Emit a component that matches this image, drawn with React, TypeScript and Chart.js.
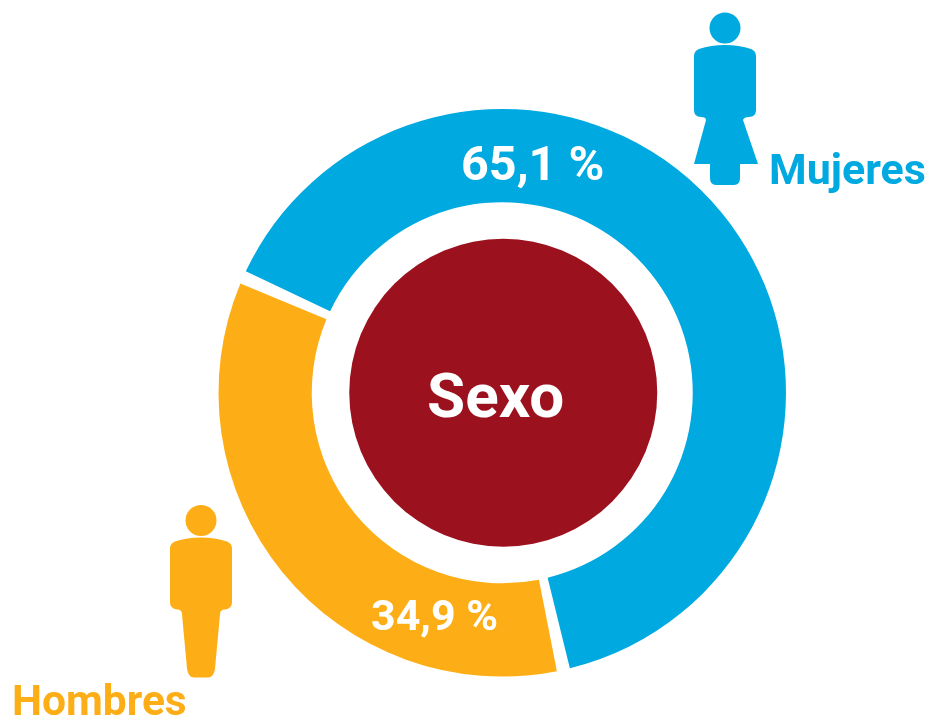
import React, { useEffect, useRef } from "react";
import { Chart, registerables } from "chart.js";

Chart.register(...registerables);

const categories = ["Mujeres", "Hombres"];
const shares = [65.1, 34.9];
const shareLabels = ["65,1 %", "34,9 %"];
const centerLabel = "Sexo";
const colors = ["#00A9E0", "#FDAE17"];
const centerColor = "#9B111E";

const womanPath =
  "M-31 28 Q-31 23 -26 21 Q-14 17 0 17 Q14 17 26 21 Q31 23 31 28 L31 82 Q31 89 24 89 Q19 89 18 92 L33 136 L15 136 L15 150 Q15 157 9 157 L-9 157 Q-15 157 -15 150 L-15 136 L-31 136 L-19 92 Q-19 89 -24 89 Q-31 89 -31 82 Z";
const manPath =
  "M-31 28 Q-31 23 -26 21 Q-14 17 0 17 Q14 17 26 21 Q31 23 31 28 L31 82 Q31 88 24 89 Q19 89 19 94 L14 148 Q13 157 7 157 L-7 157 Q-13 157 -14 148 L-19 94 Q-19 89 -24 89 Q-31 88 -31 82 Z";

const overlay = {
  id: "overlay",
  afterDraw(chart: any) {
    const { ctx } = chart;
    const cx = (chart.chartArea.left + chart.chartArea.right) / 2;
    const cy = (chart.chartArea.top + chart.chartArea.bottom) / 2;
    ctx.save();
    ctx.fillStyle = centerColor;
    ctx.beginPath();
    ctx.arc(cx + 1, cy, 154, 0, Math.PI * 2);
    ctx.fill();

    const text = (s: string, x: number, y: number, size: number, color: string) => {
      ctx.font = `700 ${size}px Roboto`;
      ctx.fillStyle = color;
      ctx.textAlign = "left";
      ctx.textBaseline = "alphabetic";
      ctx.fillText(s, x, y);
    };
    text(centerLabel, 427, 417, 62, "#FFFFFF");
    text(shareLabels[0], 461, 180, 48.5, "#FFFFFF");
    text(shareLabels[1], 371, 630, 43, "#FFFFFF");
    text(categories[0], 769, 184, 43, colors[0]);
    text(categories[1], 12, 715, 42.5, colors[1]);

    const person = (x: number, y: number, path: string, color: string) => {
      ctx.save();
      ctx.translate(x, y);
      ctx.fillStyle = color;
      ctx.beginPath();
      ctx.arc(0, 0, 15.5, 0, Math.PI * 2);
      ctx.fill();
      ctx.fill(new Path2D(path));
      ctx.restore();
    };
    person(725, 28, womanPath, colors[0]);
    person(201, 520.5, manPath, colors[1]);
    ctx.restore();
  },
};

export default function App() {
  const ref = useRef<HTMLCanvasElement>(null);
  useEffect(() => {
    const chart = new Chart(ref.current!, {
      type: "doughnut",
      data: {
        labels: categories,
        datasets: [
          {
            data: shares,
            backgroundColor: colors,
            borderWidth: 0,
            spacing: 7,
          },
        ],
      },
      options: {
        responsive: false,
        animation: false,
        rotation: -66.4,
        cutout: 187,
        layout: { padding: { left: 218.5, right: 147, top: 109, bottom: 42.5 } },
        plugins: { legend: { display: false }, tooltip: { enabled: false } },
      },
      plugins: [overlay],
    } as any);
    return () => chart.destroy();
  }, []);
  return (
    <div style={{ position: "absolute", left: 0, top: 0, width: 933, height: 719, background: "#fff" }}>
      <canvas ref={ref} width={933} height={719} style={{ display: "block" }} />
    </div>
  );
}
